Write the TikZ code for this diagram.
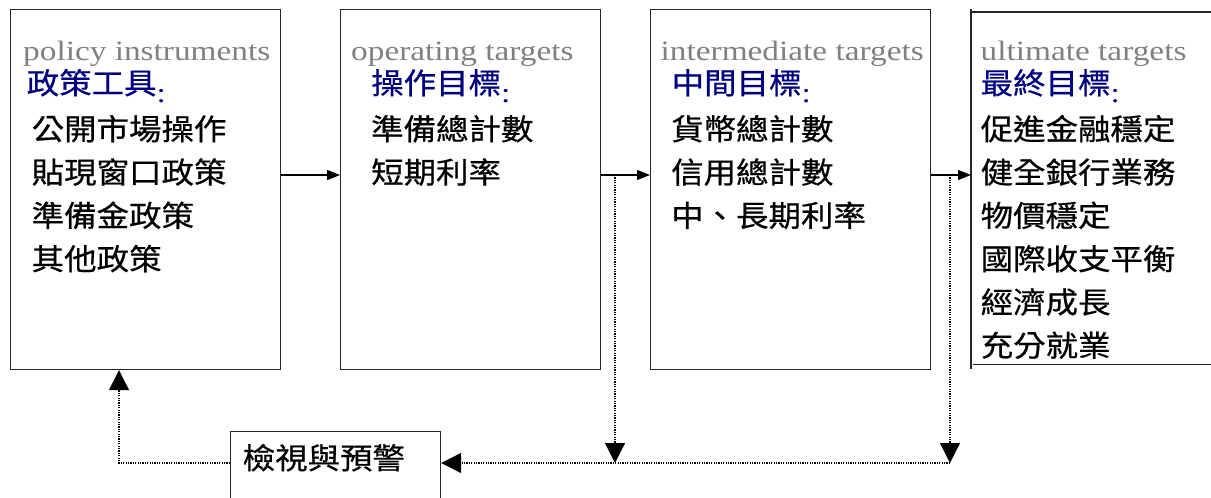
\documentclass[tikz,border=0pt]{standalone}
\usepackage{fontspec}
\usetikzlibrary{arrows.meta}
\newfontfamily\enf[FakeStretch=1.19]{Liberation Serif}
\newfontfamily\cjkf[FakeStretch=1.1,FakeBold=0.6]{Noto Sans CJK TC}
\definecolor{engray}{RGB}{128,128,128}
\definecolor{hdblue}{RGB}{0,0,128}
\newcommand\hcolon{{\enf\fontsize{28}{30}\selectfont\raisebox{-8pt}{:}}}
\tikzset{
 box/.style={draw=black!85, line width=1.2pt, anchor=north west, inner sep=0pt},
 boxline/.style={draw=black!85, line width=1.2pt},
 en/.style={anchor=base west, inner sep=0pt, text=engray, font=\enf\fontsize{28}{30}\selectfont},
 hd/.style={anchor=base west, inner sep=0pt, text=hdblue, font=\cjkf\fontsize{29.5}{30}\selectfont},
 item/.style={anchor=base west, inner sep=0pt, text=black, font=\cjkf\fontsize{29.5}{30}\selectfont},
 solidarr/.style={line width=1.2pt, -{Triangle[length=13pt,width=10pt]}},
 dotarr/.style={line width=1.2pt, dash pattern=on 1.2pt off 1.2pt, -{Triangle[length=20pt,width=20pt]}},
}
\begin{document}
\begin{tikzpicture}[x=1pt,y=-1pt]
\useasboundingbox (0,0) rectangle (1211,498);
\clip (0,0) rectangle (1211,498);
% boxes
\node[box, minimum width=270pt, minimum height=360pt] (b1) at (10,9) {};
\node[box, minimum width=260pt, minimum height=360pt] (b2) at (340,9) {};
\node[box, minimum width=280pt, minimum height=360pt] (b3) at (650,9) {};
\node[anchor=north west, inner sep=0pt, minimum width=240pt, minimum height=360pt] (b4) at (971,9) {};
\draw[boxline] (b4.north west) -- (b4.south west);
\draw[boxline] ([yshift=-3pt]b4.north west) -- ([yshift=-3pt]b4.north east);
\draw[boxline] ([xshift=2pt,yshift=5pt]b4.south west) -- ([yshift=5pt]b4.south east);
\node[box, minimum width=210pt, minimum height=80pt] (b5) at (230,431) {};
% box 1 text
\node[en] (e1) at (23,60.5) {policy instruments};
\node[hd] (h1) at (26.5,94) {政策工具\hcolon};
\node[item] (i11) at (31.5,140) {公開市場操作};
\node[item] (i12) at (31.5,183.3) {貼現窗口政策};
\node[item] (i13) at (31.5,226.6) {準備金政策};
\node[item] (i14) at (31.5,269.9) {其他政策};
% box 2 text
\node[en] (e2) at (351,60.5) {operating targets};
\node[hd] (h2) at (371,94) {操作目標\hcolon};
\node[item] (i21) at (371,140) {準備總計數};
\node[item] (i22) at (371,183.3) {短期利率};
% box 3 text
\node[en] (e3) at (660.5,60.5) {intermediate targets};
\node[hd] (h3) at (671.5,94) {中間目標\hcolon};
\node[item] (i31) at (671,140) {貨幣總計數};
\node[item] (i32) at (671,183.3) {信用總計數};
\node[item] (i33) at (671,226.6) {中、長期利率};
% box 4 text
\node[en] (e4) at (980.5,60.5) {ultimate targets};
\node[hd] (h4) at (980.5,94) {最終目標\hcolon};
\node[item] (i41) at (980.5,140) {促進金融穩定};
\node[item] (i42) at (980.5,183.3) {健全銀行業務};
\node[item] (i43) at (980.5,226.6) {物價穩定};
\node[item] (i44) at (980.5,269.9) {國際收支平衡};
\node[item] (i45) at (980.5,313.2) {經濟成長};
\node[item] (i46) at (980.5,356.5) {充分就業};
% box 5 text
\node[item] (t5) at (242.5,469) {檢視與預警};
% connectors
\coordinate (y175) at (0,175);
\draw[solidarr] (b1.east |- y175) -- (b2.west |- y175);
\draw[solidarr] (b2.east |- y175) -- (b3.west |- y175);
\draw[solidarr] (b3.east |- y175) -- (b4.west |- y175);
\coordinate (s2) at (615,175);
\coordinate (f2) at (615,463);
\coordinate (s3) at (950,175);
\coordinate (f3) at (950,463);
\coordinate (c1) at (119,463);
\draw[dotarr] (s2) -- (f2);
\draw[dotarr] (s3) -- (f3);
\draw[dotarr] (f3) -- (b5.east |- f3);
\draw[dotarr] (b5.west |- f3) -- (c1) -- (c1 |- b1.south);
\end{tikzpicture}
\end{document}
